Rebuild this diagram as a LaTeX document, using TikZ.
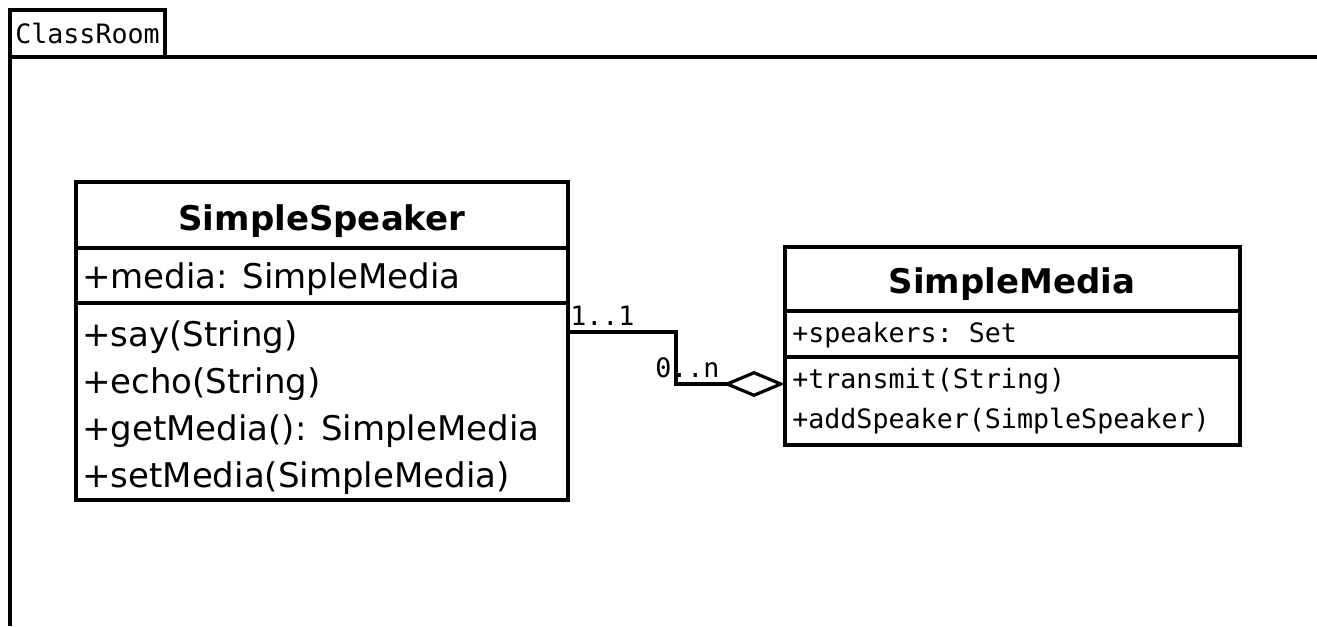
\documentclass[tikz,border=0pt]{standalone}
\usepackage{fontspec}
\setmainfont{DejaVu Sans}
\setmonofont{DejaVu Sans Mono}
\usetikzlibrary{arrows.meta}

\begin{document}
\begin{tikzpicture}[x=0.75pt,y=-0.75pt,
    box/.style={draw,line width=3pt,anchor=north west,inner sep=0pt,outer sep=0pt},
    classname/.style={font=\fontsize{25.5}{30}\selectfont\bfseries,anchor=base},
    member/.style={font=\fontsize{25.5}{30}\selectfont,anchor=base west,inner sep=0pt},
    monomember/.style={font=\fontsize{20}{24}\selectfont\ttfamily,anchor=base west,inner sep=0pt},
    aggr/.style={line width=2.4pt,-{Diamond[open,length=46.5pt,width=19.5pt]}}]
    \useasboundingbox (0,0) rectangle (1317,626);
    % package frame with its tab
    \node[box,minimum width=116.25pt,minimum height=35.25pt,font=\fontsize{20}{24}\selectfont\ttfamily] (tab) at (10,10) {ClassRoom};
    \draw[line width=3pt] (tab.south west) -- (10,626);
    \draw[line width=3pt] (tab.south east) -- (1317,57);
    % SimpleSpeaker
    \node[box,minimum width=369pt,minimum height=49.5pt] (speakerHead) at (76,182) {};
    \node[box,minimum width=369pt,minimum height=41.25pt] (speakerAttr) at (speakerHead.south west) {};
    \node[box,minimum width=369pt,minimum height=147.75pt] (speakerOps) at (speakerAttr.south west) {};
    \node[classname] (speakerName) at (322,230) {SimpleSpeaker};
    \node[member] (speakerMedia) at (82,288) {+media: SimpleMedia};
    \foreach \myy/\mytext [count=\myi] in {346/{+say(String)},393/{+echo(String)},440/{+getMedia(): SimpleMedia},487/{+setMedia(SimpleMedia)}}{
        \node[member] (speakerOp\myi) at (82,\myy) {\mytext};
    }
    % SimpleMedia
    \node[box,minimum width=341.25pt,minimum height=48pt] (mediaHead) at (785,247) {};
    \node[box,minimum width=341.25pt,minimum height=34.5pt] (mediaAttr) at (mediaHead.south west) {};
    \node[box,minimum width=341.25pt,minimum height=66pt] (mediaOps) at (mediaAttr.south west) {};
    \node[classname] (mediaName) at (1012,293) {SimpleMedia};
    \node[monomember] (mediaSpeakers) at (792,342) {+speakers: Set};
    \foreach \myy/\mytext [count=\myi] in {388/{+transmit(String)},428/{+addSpeaker(SimpleSpeaker)}}{
        \node[monomember] (mediaOp\myi) at (792,\myy) {\mytext};
    }
    % aggregation
    \node[monomember] (srcMult) at (570,325) {1..1};
    \node[monomember] (dstMult) at (655,377) {0..n};
    \draw[aggr] ([yshift=-21.75pt]speakerOps.north east) -- ++(108,0) |- ([yshift=-20.25pt]mediaOps.north west);
\end{tikzpicture}
\end{document}
